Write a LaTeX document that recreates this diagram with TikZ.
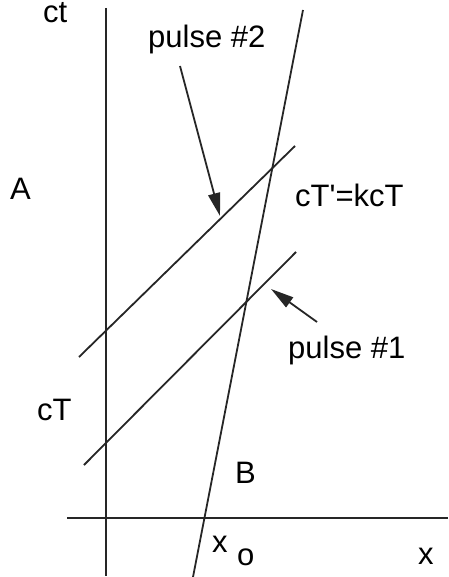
\documentclass[tikz,border=0pt]{standalone}
\usepackage{fontspec}
\setmainfont{Liberation Sans}
\usetikzlibrary{arrows.meta, positioning}

\begin{document}
\begin{tikzpicture}[x=1pt, y=-1pt,
  wl/.style={line width=1.8pt, color=black!85},
  arr/.style={-{Triangle[length=23pt,width=12pt]}, line width=1.8pt, color=black!85},
  lbl/.style={anchor=base west, inner sep=0pt, font=\fontsize{31}{37}\selectfont}
]
  \useasboundingbox (0,0) rectangle (448,577);

  % axes
  \coordinate (ctTop) at (106,8);
  \coordinate (ctBot) at (106,576);
  \coordinate (xL) at (67,518);
  \coordinate (xR) at (448,518);
  \draw[wl] (ctTop) -- (ctBot);
  \draw[wl] (xL) -- (xR);

  % world line of B
  \coordinate (bBot) at (193,577);
  \coordinate (bTop) at (303,10);
  \draw[wl] (bBot) -- (bTop);

  % light pulses
  \coordinate (p1a) at (84,465);
  \coordinate (p1b) at (296,252);
  \coordinate (p2a) at (79,357);
  \coordinate (p2b) at (295,146);
  \draw[wl] (p1a) -- (p1b);
  \draw[wl] (p2a) -- (p2b);

  % labels
  \node[lbl] (ct) at (43,23) {ct};
  \node[lbl] (lblA) at (10,200) {A};
  \node[lbl] (cT) at (37,420) {cT};
  \node[lbl] (kcT) at (295,206) {cT\textquotesingle=kcT};
  \node[lbl] (lblB) at (235,483) {B};
  \node[lbl] (xo) at (212,552) {x};
  \node[lbl] (o) at (237,565) {o};
  \node[lbl] (xax) at (418,564) {x};
  \node[lbl] (puls2) at (148,48) {pulse \#2};
  \node[lbl] (puls1) at (288,358) {pulse \#1};

  % arrows to the pulses
  \coordinate (t2) at (180,66);
  \coordinate (h2) at (220,216);
  \coordinate (t1) at (317,322);
  \coordinate (h1) at (271,289);
  \draw[arr] (t2) -- (h2);
  \draw[arr] (t1) -- (h1);
\end{tikzpicture}
\end{document}
